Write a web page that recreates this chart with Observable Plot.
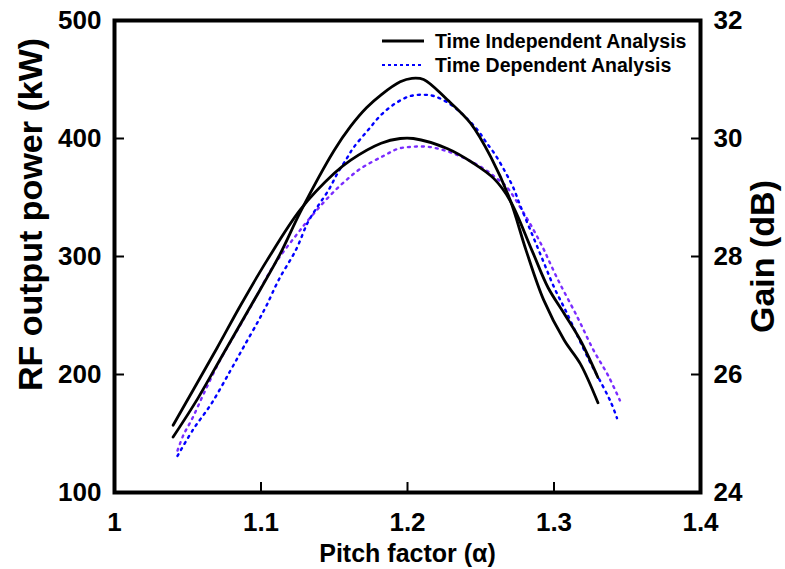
<!DOCTYPE html>
<html>
<head>
<meta charset="utf-8">
<script src="https://cdn.jsdelivr.net/npm/d3@7"></script>
<script src="https://cdn.jsdelivr.net/npm/@observablehq/plot@0.6"></script>
<style>
  html, body { margin: 0; padding: 0; background: #fff; }
  #wrap { position: relative; width: 785px; height: 569px; overflow: hidden; }
  #legend { position: absolute; left: 380px; top: 29px; font-family: 'Liberation Sans', Arial, sans-serif; font-weight: bold; font-size: 19.5px; color: #000; }
  .row { display: flex; align-items: center; height: 24px; }
  .row svg { width: 46px; height: 10px; margin-right: 9px; }
</style>
</head>
<body>
<div id="wrap"><div id="legend"></div></div>
<script>
// ---- Data ----
// Time Independent Analysis: RF output power (kW)
const tiPowerX  = [1.040,1.057,1.074,1.093,1.113,1.127,1.150,1.161,1.172,1.182,1.195,1.203,1.211,1.227,1.243,1.257,1.270,1.281,1.293,1.307,1.318,1.330];
const tiPowerKW = [147,180,217,258,302,338,390,410,426,437,448,451,450,433,413,384,348,305,263,229,209,176];
// Time Independent Analysis: Gain (dB)
const tiGainX  = [1.040,1.054,1.070,1.086,1.104,1.127,1.150,1.161,1.182,1.195,1.204,1.227,1.245,1.259,1.270,1.285,1.296,1.307,1.318,1.330];
const tiGainDB = [25.14,25.75,26.45,27.17,27.93,28.80,29.41,29.63,29.92,30.00,30.00,29.83,29.58,29.32,28.95,28.10,27.47,27.03,26.58,25.95];
// Time Dependent Analysis: RF output power (kW)
const tdPowerX  = [1.043,1.054,1.066,1.079,1.088,1.098,1.104,1.112,1.124,1.132,1.139,1.146,1.152,1.159,1.163,1.173,1.182,1.192,1.202,1.212,1.218,1.228,1.238,1.248,1.253,1.260,1.267,1.272,1.277,1.286,1.293,1.300,1.308,1.324,1.333,1.339,1.343];
const tdPowerKW = [131,154,175,203,223,245,259,280,306,329,343,356,370,384,392,407,420,430,436,437,436,430,420,407,398,386,371,359,343,316,295,274,254,212,191,176,163];
// Time Dependent Analysis: Gain (dB)
const tdGainX  = [1.043,1.047,1.053,1.061,1.072,1.085,1.093,1.107,1.115,1.124,1.132,1.147,1.158,1.168,1.184,1.194,1.204,1.214,1.225,1.235,1.245,1.255,1.261,1.267,1.279,1.291,1.302,1.316,1.327,1.337,1.345];
const tdGainDB = [24.71,24.97,25.25,25.68,26.24,26.80,27.15,27.78,28.07,28.36,28.61,29.03,29.29,29.49,29.71,29.83,29.86,29.86,29.80,29.71,29.59,29.44,29.32,29.20,28.75,28.22,27.64,26.97,26.41,25.98,25.56];

// Axis ticks
const xTicks = [1, 1.1, 1.2, 1.3, 1.4];
const powerTicks = [100, 200, 300, 400, 500];
const gainTicks = [24, 26, 28, 30, 32];

// Labels
const xTitle = "Pitch factor (\u03b1)";
const yLeftTitle = "RF output power (kW)";
const yRightTitle = "Gain (dB)";
const seriesNames = ["Time Independent Analysis", "Time Dependent Analysis"];

// Gain axis (right) shares the plot with the power axis (left): 24..32 dB <-> 100..500 kW
const gainToPower = g => 100 + (g - 24) * (400 / 8);
const powerToGain = p => 24 + (p - 100) * (8 / 400);

const mk = (xs, ys, f = v => v) => xs.map((x, i) => ({x, y: f(ys[i])}));
const tiPower = mk(tiPowerX, tiPowerKW);
const tiGain = mk(tiGainX, tiGainDB, gainToPower);
const tdPower = mk(tdPowerX, tdPowerKW);
const tdGain = mk(tdGainX, tdGainDB, gainToPower);

const tickFont = "'Liberation Sans Narrow', 'Arial Narrow', 'Liberation Sans', Arial, sans-serif";
const titleFont = "'Liberation Sans', Arial, sans-serif";

const chart = Plot.plot({
  width: 785,
  height: 569,
  marginLeft: 114,
  marginRight: 85,
  marginTop: 20,
  marginBottom: 77,
  style: {background: "#fff", color: "#000", overflow: "visible"},
  x: {domain: [1, 1.4]},
  y: {domain: [100, 500]},
  marks: [
    Plot.line(tdGain, {x: "x", y: "y", stroke: "#7a2cff", strokeWidth: 2.4, strokeDasharray: "2,5", curve: "catmull-rom"}),
    Plot.line(tdPower, {x: "x", y: "y", stroke: "#0000ff", strokeWidth: 2.4, strokeDasharray: "2,5", curve: "catmull-rom"}),
    Plot.line(tiGain, {x: "x", y: "y", stroke: "#000", strokeWidth: 2.8, curve: "catmull-rom"}),
    Plot.line(tiPower, {x: "x", y: "y", stroke: "#000", strokeWidth: 2.8, curve: "catmull-rom"}),
    Plot.axisX({ticks: xTicks, tickSize: 10, dy: -10, tickPadding: 20, strokeWidth: 2,
      tickFormat: d => String(+d.toFixed(1)), label: null,
      fontSize: 26, fontWeight: "bold", fontFamily: tickFont}),
    Plot.axisY({anchor: "left", ticks: powerTicks, tickSize: 10, dx: 10, tickPadding: 13, strokeWidth: 2,
      tickFormat: d => String(d), label: null,
      fontSize: 26, fontWeight: "bold", fontFamily: tickFont}),
    Plot.axisY({anchor: "right", ticks: gainTicks.map(gainToPower), tickSize: 10, dx: -10, tickPadding: 13, strokeWidth: 2,
      tickFormat: d => String(Math.round(powerToGain(d))), label: null,
      fontSize: 26, fontWeight: "bold", fontFamily: tickFont}),
    Plot.frame({stroke: "#000", strokeWidth: 4}),
    Plot.text([xTitle], {frameAnchor: "bottom", dy: 61, lineAnchor: "middle", textAnchor: "middle", fontSize: 25, fontWeight: "bold", fontFamily: titleFont}),
    Plot.text([yLeftTitle], {frameAnchor: "left", rotate: -90, dx: -83, dy: -42, lineAnchor: "middle", textAnchor: "middle", fontSize: 34, fontWeight: "bold", fontFamily: titleFont}),
    Plot.text([yRightTitle], {frameAnchor: "right", rotate: -90, dx: 63, dy: 0, lineAnchor: "middle", textAnchor: "middle", fontSize: 34, fontWeight: "bold", fontFamily: titleFont})
  ]
});
document.getElementById("wrap").prepend(chart);

// Legend
const legend = d3.select("#legend");
const styles = [
  {stroke: "#000", width: 2.8, dash: null},
  {stroke: "#0000ff", width: 2, dash: "3,3"}
];
seriesNames.forEach((name, i) => {
  const row = legend.append("div").attr("class", "row");
  const svg = row.append("svg");
  const ln = svg.append("line").attr("x1", 2).attr("x2", 44).attr("y1", 5).attr("y2", 5)
    .attr("stroke", styles[i].stroke).attr("stroke-width", styles[i].width);
  if (styles[i].dash) ln.attr("stroke-dasharray", styles[i].dash);
  row.append("span").text(name);
});
</script>
</body>
</html>
